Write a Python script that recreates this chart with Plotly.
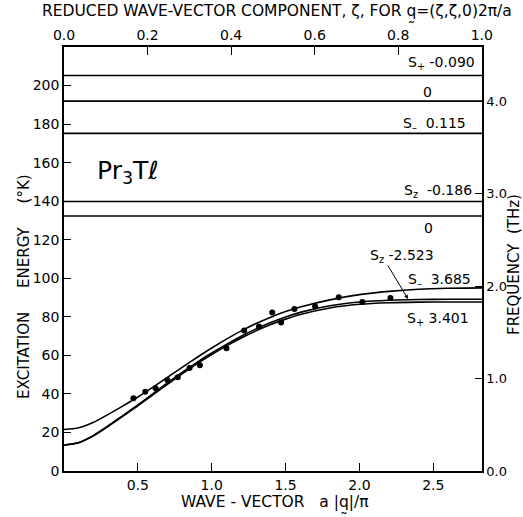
import plotly.graph_objects as go

# ---- data ----
q_curve = [0.0, 0.1, 0.2, 0.3, 0.4, 0.5, 0.6, 0.7, 0.8, 0.9, 1.0, 1.1, 1.2,
           1.3, 1.4, 1.5, 1.6, 1.8, 2.0, 2.2, 2.4, 2.6, 2.83]
s_minus = [21.5, 22.4, 25.3, 29.4, 33.8, 38.4, 43.4, 48.6, 53.8, 58.9, 63.8, 68.4, 72.7,
           76.5, 79.8, 82.7, 85.1, 88.8, 91.5, 93.2, 94.3, 94.8, 95.0]
s_z = [13.5, 14.8, 18.5, 23.5, 28.9, 34.3, 40.0, 45.7, 51.2, 56.4, 61.2, 65.7, 69.9,
       73.7, 77.0, 79.9, 82.3, 85.7, 87.7, 88.6, 89.0, 89.1, 89.1]
s_plus = [13.5, 14.7, 18.3, 23.2, 28.5, 33.8, 39.4, 45.0, 50.4, 55.6, 60.4, 64.9, 69.0,
          72.7, 76.0, 78.8, 81.2, 84.6, 86.5, 87.3, 87.6, 87.7, 87.7]

q_pts = [0.47, 0.55, 0.62, 0.70, 0.77, 0.85, 0.92, 1.10, 1.22, 1.32, 1.41, 1.47,
         1.56, 1.70, 1.86, 2.02, 2.21]
e_pts = [37.7, 41.1, 42.9, 47.2, 48.6, 53.5, 54.9, 63.7, 72.9, 75.0, 82.3, 77.1,
         84.1, 85.4, 90.1, 87.7, 89.8]

flat_levels = [205.2, 191.9, 175.2, 139.8, 132.3]

x_ticks = [0.5, 1.0, 1.5, 2.0, 2.5]
y_ticks = [0, 20, 40, 60, 80, 100, 120, 140, 160, 180, 200]
zeta_ticks = [0.0, 0.2, 0.4, 0.6, 0.8, 1.0]
thz_ticks = [0.0, 1.0, 2.0, 3.0, 4.0]

X_MAX = 2.83
Y_MAX = 220.0
K_PER_THZ = 47.99
QMAX_ZETA = 2.0 * 2 ** 0.5

FONT = "DejaVu Sans"
L, R, T, B = 64, 482, 47, 471


def px2x(px):
    return (px - L) / (R - L) * X_MAX


def py2y(py):
    return (B - py) / (B - T) * Y_MAX


fig = go.Figure()
line_style = dict(color="black", width=1.6)

for lv in flat_levels:
    fig.add_trace(go.Scatter(x=[0, X_MAX], y=[lv, lv], mode="lines",
                             line=line_style, showlegend=False, hoverinfo="skip"))

for ys in (s_minus, s_z, s_plus):
    fig.add_trace(go.Scatter(x=q_curve, y=ys, mode="lines",
                             line=dict(color="black", width=1.6, shape="spline", smoothing=0.8),
                             showlegend=False, hoverinfo="skip"))

fig.add_trace(go.Scatter(x=q_pts, y=e_pts, mode="markers",
                         marker=dict(color="black", size=6), showlegend=False,
                         hoverinfo="skip"))

# invisible trace to activate the secondary axes
fig.add_trace(go.Scatter(x=[0], y=[0], xaxis="x2", yaxis="y2", mode="markers",
                         marker=dict(opacity=0), showlegend=False, hoverinfo="skip"))

tickfont = dict(family=FONT, size=14, color="black")
common = dict(ticks="inside", tickwidth=1.3, tickcolor="black", showline=True,
              linecolor="black", linewidth=1.5, showgrid=False, zeroline=False)
fig.update_layout(
    width=523, height=517,
    margin=dict(l=L, r=523 - R, t=T, b=517 - B),
    paper_bgcolor="white", plot_bgcolor="white",
    font=dict(family=FONT, size=14, color="black"),
    xaxis=dict(range=[0, X_MAX], tickvals=x_ticks, ticktext=[f"{v:.1f}" for v in x_ticks],
               ticklen=8, tickfont=tickfont, **common),
    yaxis=dict(range=[0, Y_MAX], tickvals=y_ticks, ticklen=7, tickfont=tickfont, **common),
    xaxis2=dict(overlaying="x", side="top", range=[0, X_MAX / QMAX_ZETA],
                tickvals=zeta_ticks, ticktext=[f"{v:.1f}" for v in zeta_ticks],
                ticklen=8, tickfont=tickfont, **common),
    yaxis2=dict(overlaying="y", side="right", range=[0, Y_MAX / K_PER_THZ],
                tickvals=thz_ticks, ticktext=[f"{v:.1f}" for v in thz_ticks],
                ticklen=7, tickfont=dict(family=FONT, size=13, color="black"), **common),
)


def label(text, px, py, anchor="left", size=14):
    fig.add_annotation(x=px2x(px), y=py2y(py), xref="x", yref="y", text=text,
                       showarrow=False, xanchor=anchor, yanchor="middle",
                       font=dict(family=FONT, size=size, color="black"))


label("S<sub>+</sub> -0.090", 477, 63, "right")
label("0", 427, 92, "center")
label("S<sub>–</sub>  0.115", 468, 124, "right")
label("S<sub>z</sub>  -0.186", 474, 191, "right")
label("0", 428, 228, "center")
label("S<sub>z</sub> -2.523", 368, 256, "left")
label("S<sub>–</sub>  3.685", 406, 280, "left")
label("S<sub>+</sub> 3.401", 405, 319, "left")
label("Pr<sub>3</sub>Tℓ", 128, 172, "center", size=25)

# arrow from S_z label to its curve
fig.add_annotation(x=px2x(408), y=py2y(299), xref="x", yref="y", ax=px2x(387),
                   ay=py2y(264), axref="x", ayref="y", text="", showarrow=True,
                   arrowhead=2, arrowsize=0.8, arrowwidth=1, arrowcolor="black")


def add_paper_text(text, px, py, size=14, angle=0):
    fig.add_annotation(x=(px - L) / (R - L), y=(B - py) / (B - T), xref="paper",
                       yref="paper", text=text, showarrow=False, textangle=angle,
                       xanchor="center", yanchor="middle",
                       font=dict(family=FONT, size=size, color="black"))


add_paper_text("REDUCED WAVE-VECTOR COMPONENT, ζ, FOR q̰=(ζ,ζ,0)2π/a", 277, 13, 15.5)
add_paper_text("WAVE - VECTOR   a |q̰|/π", 275, 504, 15.5)
add_paper_text("EXCITATION     ENERGY     (°K)", 24, 287, 15, -90)
add_paper_text("FREQUENCY  (THz)", 514, 265, 15, -90)

fig.write_html("out.html")
